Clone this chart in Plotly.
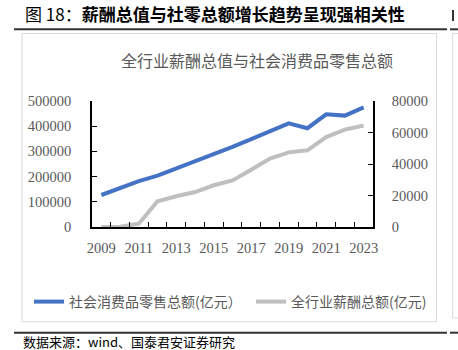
import plotly.graph_objects as go

years = list(range(2009, 2024))
retail_sales = [127000, 154000, 182000, 204000, 232000, 259000, 288000, 318000,
                349000, 378000, 411000, 392000, 447000, 442000, 475000]
total_wages = [0, 200, 2100, 16300, 19500, 22200, 26500, 29600,
               36400, 43400, 47400, 48700, 57100, 61800, 64400]
label_years = [2009, 2011, 2013, 2015, 2017, 2019, 2021, 2023]
boundary_ticks = [y + 0.5 for y in years[:-1]]

name_retail = "社会消费品零售总额(亿元）"
name_wages = "全行业薪酬总额(亿元)"

W, H = 458, 350
ML, MR, MT, MB = 92, 85, 101, 123
PW, PH = W - ML - MR, H - MT - MB


def px(x):
    return (x - ML) / PW


def py(y):
    return (H - MB - y) / PH


SERIF = "Liberation Serif, DejaVu Serif, serif"
SANS = "Noto Sans CJK SC"
GRAY = "#595959"

fig = go.Figure()
fig.add_trace(go.Scatter(x=years, y=retail_sales, name=name_retail, mode="lines",
                         line=dict(color="#4472C4", width=4), yaxis="y",
                         legend="legend"))
fig.add_trace(go.Scatter(x=years, y=total_wages, name=name_wages, mode="lines",
                         line=dict(color="#BFBFBF", width=4), yaxis="y2",
                         legend="legend2"))
fig.add_trace(go.Scatter(x=[], y=[], xaxis="x2", yaxis="y", showlegend=False,
                         hoverinfo="skip"))

axis_common = dict(showgrid=False, zeroline=False, showline=True, linecolor="black",
                   linewidth=1.5, ticks="inside", ticklen=5, tickcolor="black",
                   tickwidth=1, tickfont=dict(family=SERIF, size=14.5, color=GRAY))

legend_common = dict(orientation="h", yanchor="middle", xanchor="left",
                     font=dict(family=SANS, size=14, color=GRAY),
                     bgcolor="rgba(0,0,0,0)", itemwidth=30)

fig.update_layout(
    width=W, height=H,
    margin=dict(l=ML, r=MR, t=MT, b=MB, pad=0),
    paper_bgcolor="white", plot_bgcolor="white",
    title=dict(text="图 18：<b>薪酬总值与社零总额增长趋势呈现强相关性</b>",
               xref="container", yref="container", x=25 / W, y=1 - 15 / H,
               xanchor="left", yanchor="middle",
               font=dict(family=SANS, size=17, color="black")),
    xaxis=dict(range=[2008.5, 2023.5], tickmode="array", tickvals=label_years,
               ticktext=[str(v) for v in label_years], showgrid=False, zeroline=False,
               showline=True, linecolor="black", linewidth=1.5, ticks="",
               ticklabelstandoff=7,
               tickfont=dict(family=SERIF, size=14.5, color=GRAY)),
    xaxis2=dict(range=[2008.5, 2023.5], overlaying="x", anchor="y", side="bottom",
                tickmode="array", tickvals=boundary_ticks, showticklabels=False,
                showgrid=False, zeroline=False, showline=False, ticks="inside",
                ticklen=5, tickcolor="black", tickwidth=1),
    yaxis=dict(range=[0, 500000], dtick=100000, tickformat="d", side="left",
               ticklabelstandoff=16, **axis_common),
    yaxis2=dict(range=[0, 80000], dtick=20000, tickformat="d", side="right",
                overlaying="y", ticklabelstandoff=14, **axis_common),
    legend=dict(x=px(29), y=py(302), **legend_common),
    legend2=dict(x=px(251), y=py(302), **legend_common),
    showlegend=True,
)

shapes = [
    dict(type="rect", xref="paper", yref="paper", x0=px(22), x1=px(436.5),
         y0=py(33.5), y1=py(321.7), line=dict(color="#D9D9D9", width=1),
         fillcolor="rgba(0,0,0,0)", layer="below"),
    dict(type="line", xref="paper", yref="paper", x0=px(14), x1=px(447),
         y0=py(29.3), y1=py(29.3), line=dict(color="#333333", width=2)),
    dict(type="line", xref="paper", yref="paper", x0=px(14), x1=px(447),
         y0=py(332.7), y1=py(332.7), line=dict(color="#333333", width=2)),
    # neighbouring column fragments at the right edge
    dict(type="line", xref="paper", yref="paper", x0=px(450), x1=px(460),
         y0=py(29.3), y1=py(29.3), line=dict(color="#333333", width=2)),
    dict(type="line", xref="paper", yref="paper", x0=px(450), x1=px(460),
         y0=py(332.7), y1=py(332.7), line=dict(color="#333333", width=2)),
    dict(type="line", xref="paper", yref="paper", x0=px(452.7), x1=px(452.7),
         y0=py(33.5), y1=py(318), line=dict(color="#D9D9D9", width=1)),
    dict(type="line", xref="paper", yref="paper", x0=px(452.7), x1=px(460),
         y0=py(33.5), y1=py(33.5), line=dict(color="#D9D9D9", width=1)),
    dict(type="line", xref="paper", yref="paper", x0=px(452.7), x1=px(460),
         y0=py(318), y1=py(318), line=dict(color="#D9D9D9", width=1)),
    dict(type="rect", xref="paper", yref="paper", x0=px(452), x1=px(454),
         y0=py(21), y1=py(10), line=dict(width=0), fillcolor="#333333"),
]
fig.update_layout(shapes=shapes)

fig.add_annotation(text="全行业薪酬总值与社会消费品零售总额", xref="paper", yref="paper",
                   x=px(256.7), y=py(60), xanchor="center", yanchor="middle",
                   showarrow=False, font=dict(family=SANS, size=16, color=GRAY))
fig.add_annotation(text="数据来源：wind、国泰君安证券研究", xref="paper", yref="paper",
                   x=px(21), y=py(341.5), xanchor="left", yanchor="middle",
                   showarrow=False, font=dict(family=SANS, size=13, color="black"))

fig.write_html("out.html")
